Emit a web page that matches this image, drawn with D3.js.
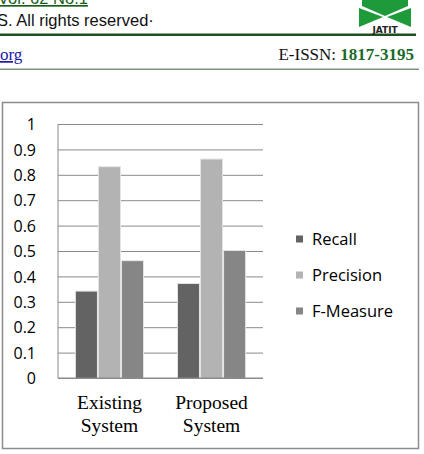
<!DOCTYPE html>
<html>
<head>
<meta charset="utf-8">
<script src="https://cdn.jsdelivr.net/npm/d3@7"></script>
<style>
  body { margin: 0; background: #fff; }
</style>
</head>
<body>
<div id="chart"></div>
<script>
// data
var systems = ["Existing System", "Proposed System"];
var measures = ["Recall", "Precision", "F-Measure"];
var recall = [0.34, 0.37];
var precision = [0.83, 0.86];
var fmeasure = [0.46, 0.50];
var yTicks = [0, 0.1, 0.2, 0.3, 0.4, 0.5, 0.6, 0.7, 0.8, 0.9, 1];
var colors = ["#636363", "#b3b3b3", "#868686"];

var svg = d3.select("#chart").append("svg")
  .attr("width", 424)
  .attr("height", 454);

// page header bits (journal page)
var head = svg.append("g");
head.append("text").attr("x", -2).attr("y", 4)
  .attr("font-family", "Liberation Sans, Arial").attr("font-size", 16.5)
  .attr("fill", "#1a5a1a").attr("text-decoration", "underline")
  .text("Vol. 62 No.1");
head.append("text").attr("x", -3).attr("y", 26)
  .attr("font-family", "Liberation Sans, Arial").attr("font-size", 16.5)
  .attr("fill", "#111").text("S. All rights reserved·");
head.append("rect").attr("x", 0).attr("y", 33.5).attr("width", 416).attr("height", 2.5)
  .attr("fill", "#1f4f1f");
// logo
var logo = head.append("g");
logo.append("path").attr("d", "M362,0 L408,0 L408,6 L385,16 L362,6 Z").attr("fill", "#1e9a3a");
logo.append("path").attr("d", "M359,8 L383,17 L359,27 Z").attr("fill", "#1e9a3a");
logo.append("path").attr("d", "M411,8 L387,17 L411,27 Z").attr("fill", "#1e9a3a");
logo.append("text").attr("x", 385).attr("y", 33).attr("text-anchor", "middle")
  .attr("font-family", "DejaVu Sans").attr("font-weight", "bold").attr("font-size", 9)
  .attr("fill", "#222").text("JATIT");

head.append("text").attr("x", 0).attr("y", 60)
  .attr("font-family", "Liberation Serif, Times New Roman").attr("font-size", 17)
  .attr("fill", "#1a1aa8").attr("text-decoration", "underline").text("org");
var issn = head.append("text").attr("x", 414).attr("y", 60).attr("text-anchor", "end")
  .attr("font-family", "Liberation Serif, Times New Roman").attr("font-size", 17)
  .attr("fill", "#111");
issn.append("tspan").text("E-ISSN: ");
issn.append("tspan").attr("font-weight", "bold").attr("fill", "#1a6a2a").text("1817-3195");
head.append("rect").attr("x", 0).attr("y", 68.5).attr("width", 419).attr("height", 1.5)
  .attr("fill", "#7f927f");

// chart frame
svg.append("rect").attr("x", 2.5).attr("y", 102.5).attr("width", 416).attr("height", 346)
  .attr("fill", "#fff").attr("stroke", "#8c8c8c").attr("stroke-width", 1.5);

var plotLeft = 58, plotRight = 263, plotTop = 124, plotBottom = 378;

var x0 = d3.scaleBand().domain(systems).range([plotLeft, plotRight])
  .paddingInner(0.343).paddingOuter(0.176);
var x1 = d3.scaleBand().domain(measures).range([0, x0.bandwidth()])
  .paddingInner(0.09).paddingOuter(0);
var y = d3.scaleLinear().domain([0, 1]).range([plotBottom, plotTop]);

// gridlines
svg.append("g")
  .attr("transform", "translate(" + plotLeft + ",0)")
  .call(d3.axisLeft(y).tickValues(yTicks).tickSize(-(plotRight - plotLeft)).tickFormat(""))
  .call(g => g.select(".domain").remove())
  .call(g => g.selectAll("line").attr("stroke", "#8a8a8a").attr("stroke-width", 1));

// y labels
svg.append("g")
  .attr("transform", "translate(" + (plotLeft - 19) + ",0)")
  .call(d3.axisLeft(y).tickValues(yTicks).tickSize(0).tickFormat(d => d))
  .call(g => g.select(".domain").remove())
  .call(g => g.selectAll("text").attr("font-family", "Open Sans, sans-serif")
    .attr("font-size", 16).attr("fill", "#000").attr("dy", "0.36em"));

svg.append("line").attr("x1", plotLeft).attr("x2", plotLeft).attr("y1", plotTop).attr("y2", plotBottom)
  .attr("stroke", "#8a8a8a");

var rows = systems.map(function(s, i) {
  return { sys: s, vals: [recall[i], precision[i], fmeasure[i]] };
});

var groups = svg.selectAll(".grp").data(rows).enter().append("g")
  .attr("transform", d => "translate(" + x0(d.sys) + ",0)");

// soft shadow behind bars
groups.selectAll(".sh").data(d => d.vals).enter().append("rect")
  .attr("x", (d, i) => x1(measures[i]) - 1)
  .attr("y", d => y(d) - 1)
  .attr("width", x1.bandwidth() + 2)
  .attr("height", d => plotBottom - y(d) + 1)
  .attr("fill", "#e2e2e2");

groups.selectAll(".bar").data(d => d.vals).enter().append("rect")
  .attr("x", (d, i) => x1(measures[i]))
  .attr("y", d => y(d))
  .attr("width", x1.bandwidth())
  .attr("height", d => plotBottom - y(d))
  .attr("fill", (d, i) => colors[i]);

svg.append("line").attr("x1", plotLeft).attr("x2", plotRight).attr("y1", plotBottom).attr("y2", plotBottom)
  .attr("stroke", "#8a8a8a");

// category labels, two lines each
systems.forEach(function(s) {
  var words = s.split(" ");
  var cx = x0(s) + x0.bandwidth() / 2;
  var t = svg.append("text")
    .attr("text-anchor", "middle")
    .attr("font-family", "Liberation Serif, Times New Roman").attr("font-size", 19.5)
    .attr("fill", "#000");
  t.append("tspan").attr("x", cx).attr("y", 409).text(words[0]);
  t.append("tspan").attr("x", cx).attr("y", 432).text(words[1]);
});

// legend
var legend = svg.selectAll(".leg").data(measures).enter().append("g")
  .attr("transform", (d, i) => "translate(296," + (239 + i * 36) + ")");
legend.append("rect").attr("x", 0).attr("y", -3.5).attr("width", 7).attr("height", 7)
  .attr("fill", (d, i) => colors[i]);
legend.append("text").attr("x", 16).attr("y", 0).attr("dy", "0.36em")
  .attr("font-family", "Open Sans, sans-serif").attr("font-size", 16.5)
  .attr("fill", "#000").text(d => d);
</script>
</body>
</html>
